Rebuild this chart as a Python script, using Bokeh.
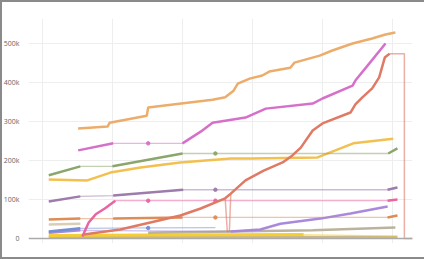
from bokeh.plotting import figure
from bokeh.models import Range1d, FixedTicker, NumeralTickFormatter, Span
from bokeh.embed import file_html
from bokeh.resources import INLINE

# ---- data (x: time index, y: thousands); None marks a gap in observations ----
y_ticks = [0, 100, 200, 300, 400, 500]
x_ticks = [0, 10, 20, 30, 40, 50]

tan_x = [0.9, 50.7]
tan_y = [4, 4]

yellow_x = [0.9, 15.0, 37.3, None, 50.7]
yellow_y = [8, 9, 10, None, 6]

gray_x = [15.1, 26.9, 38.6, 50.4]
gray_y = [15, 18, 21, 28]

lavender_x = [0.9, 5.4, None, 26.9, 31.1, 34.0, 39.7, 44.0, 49.3]
lavender_y = [15, 21, None, 18, 23, 38, 51, 64, 82]

blue_x = [0.9, 5.4, None, 15.1, None, 24.7]
blue_y = [18, 26, None, 27, None, 28]

beige_x = [0.9, 5.4]
beige_y = [36, 38]

brown_x = [0.9, 5.4, None, 10.1, 20.0, None, 24.7, None, 49.3, 50.7]
brown_y = [49, 51, None, 51, 54, None, 54, None, 54, 59]

pink_x = [5.7, 6.6, 7.6, 8.9, 10.4, None, 15.1, None, 24.7, None, 49.3, 50.7]
pink_y = [5, 41, 62, 77, 97, None, 97, None, 97, None, 97, 100]

purple_x = [0.9, 5.4, None, 10.1, 20.1, None, 24.7, None, 49.3, 50.7]
purple_y = [95, 108, None, 110, 125, None, 125, None, 125, 131]

gold_x = [0.9, 6.4, 9.7, 14.0, 19.7, 26.9, 29.7, 39.3, 44.4, 50.1]
gold_y = [151, 149, 169, 182, 195, 205, 205, 208, 244, 256]

olive_x = [0.9, 5.4, None, 10.0, 20.0, None, 24.7, None, 49.4, 50.7]
olive_y = [162, 185, None, 185, 218, None, 218, None, 218, 231]

magenta_x = [5.1, 10.1, None, 15.1, None, 20.0, 22.6, 24.3, 29.0, 31.9, 38.6, 40.0, 44.3, 44.7, 46.7, 49.0]
magenta_y = [226, 244, None, 244, None, 244, 274, 297, 310, 333, 346, 359, 392, 405, 449, 500]

orange_x = [5.1, 9.3, 9.6, 14.9, 15.1, 24.3, 26.1, 27.3, 27.9, 29.6, 31.4, 32.4, 35.4, 36.0, 39.6, 41.4, 44.3, 47.1, 49.0, 50.4]
orange_y = [282, 287, 297, 315, 336, 356, 362, 379, 397, 410, 418, 428, 438, 451, 469, 482, 500, 513, 523, 528]

red_x = [5.9, 11.1, 15.4, 19.7, 22.6, 26.1, 26.9, 29.0, 31.6, 34.3, 35.7, 36.9, 38.6, 40.0, 44.0, 44.7, 45.7, 47.1, 48.1, 48.9, 49.6]
red_y = [10, 23, 41, 59, 77, 103, 115, 149, 174, 195, 213, 233, 277, 295, 323, 344, 362, 385, 413, 464, 474]

red_adj_x = [26.1, 26.4, 26.7, 26.9, None, 49.6, 51.7, 51.7, 52.9]
red_adj_y = [103, 18, 18, 115, None, 474, 474, 0, 0]

NAN = float("nan")

p = figure(width=424, height=259, output_backend="svg", toolbar_location=None,
           x_range=Range1d(-2.0, 52.86), y_range=Range1d(-12820, 564100),
           min_border_left=28, min_border_right=12, min_border_top=18, min_border_bottom=16)
p.outline_line_color = None
p.background_fill_color = "white"
p.border_fill_color = None
p.styles = {"box-shadow": "inset 2px 0 0 #8a8a8a, inset 0 2px 0 #8a8a8a, inset 0 -2px 0 #8a8a8a",
            "background-color": "white"}

p.xaxis.visible = False
p.xaxis.ticker = FixedTicker(ticks=x_ticks)
p.xgrid.ticker = FixedTicker(ticks=x_ticks)
p.xgrid.grid_line_color = "#EEEEEE"

p.yaxis.ticker = FixedTicker(ticks=[v * 1000 for v in y_ticks])
p.ygrid.ticker = FixedTicker(ticks=[v * 1000 for v in y_ticks])
p.ygrid.grid_line_color = "#EEEEEE"
p.yaxis.formatter = NumeralTickFormatter(format="0a")
p.yaxis.axis_line_color = None
p.yaxis.major_tick_line_color = None
p.yaxis.minor_tick_line_color = None
p.yaxis.major_label_standoff = 3
p.yaxis.major_label_text_font_size = "7px"
p.yaxis.major_label_text_color = "#666666"
p.yaxis.major_label_text_font = "Open Sans"

p.add_layout(Span(location=0, dimension="width", line_color="#AAAAAA", line_width=1.5))


def draw(xs, ys, color, thick=2.5):
    n = len(xs)
    ox = [xs[i] for i in range(n) if ys[i] is not None]
    oy = [ys[i] * 1000 for i in range(n) if ys[i] is not None]
    p.line(ox, oy, line_color=color, line_width=1.3, line_alpha=0.5)
    tx = [NAN if v is None else v for v in xs]
    ty = [NAN if v is None else v * 1000 for v in ys]
    p.line(tx, ty, line_color=color, line_width=thick, line_alpha=0.95)
    mx, my = [], []
    for i in range(n):
        if ys[i] is None:
            continue
        prev_gap = i == 0 or ys[i - 1] is None
        next_gap = i == n - 1 or ys[i + 1] is None
        if prev_gap and next_gap and i not in (0, n - 1):
            mx.append(xs[i])
            my.append(ys[i] * 1000)
    if mx:
        p.scatter(mx, my, size=3.5, color=color, alpha=0.9)


draw(tan_x, tan_y, "#C9B486")
draw(yellow_x, yellow_y, "#F3CC2C", thick=3)
draw(gray_x, gray_y, "#B8B09A")
draw(lavender_x, lavender_y, "#A785DA")
draw(blue_x, blue_y, "#6B8DD2")
draw(beige_x, beige_y, "#D8CBB5")
draw(brown_x, brown_y, "#DB8950")
draw(pink_x, pink_y, "#E8609E")
draw(purple_x, purple_y, "#9A78A9")
draw(gold_x, gold_y, "#F2BE4A")
draw(olive_x, olive_y, "#87A367")
draw(magenta_x, magenta_y, "#D46CC8")
draw(orange_x, orange_y, "#EBAA66")

rx = [NAN if v is None else v for v in red_adj_x]
ry = [NAN if v is None else v * 1000 for v in red_adj_y]
p.line(rx, ry, line_color="#E07A6A", line_width=1.5, line_alpha=0.6)
p.line(red_x, [v * 1000 for v in red_y], line_color="#DF7A64", line_width=2.5)

open("out.html", "w").write(file_html(p, INLINE))
